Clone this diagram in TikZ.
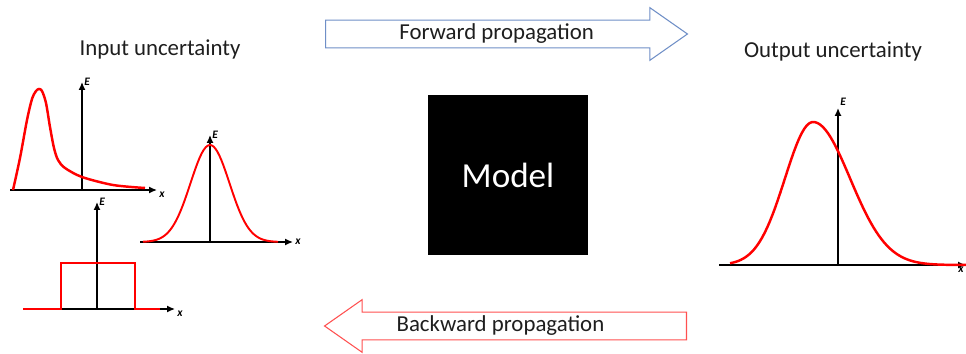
\documentclass[tikz,border=0pt]{standalone}
\usepackage{fontspec}
\setmainfont{Carlito}
\usepackage{tikz}
\usetikzlibrary{arrows.meta, positioning, shapes.arrows}

\definecolor{fwdblue}{RGB}{111,143,199}
\definecolor{bwdred}{RGB}{255,80,80}
\definecolor{txt}{RGB}{30,30,30}

\begin{document}
\begin{tikzpicture}[x=0.02cm, y=-0.02cm,
  title/.style={font=\fontsize{13}{15}\selectfont, text=txt},
  blockarrow/.style={single arrow, line width=0.6pt, fill=white,
                     minimum height=7.24cm, single arrow head extend=7.1pt,
                     single arrow tip angle=70, text height=8.5pt, text depth=2.5pt,
                     inner ysep=2.1pt, font=\fontsize{13}{15}\selectfont, text=txt},
  ax/.style={-{Latex[length=4.5pt, width=4pt]}, line width=0.8pt},
  curve/.style={red, line width=1.4pt},
  axlbl/.style={font=\fontsize{6.5}{7}\selectfont\bfseries\itshape, inner sep=1pt}]

  \useasboundingbox (0,0) rectangle (966,354);

  % titles and model box
  \node[title] (inlbl)  at (160,49) {Input uncertainty};
  \node[title] (outlbl) at (833,51) {Output uncertainty};
  \node[fill=black, minimum size=3.2cm, text=white,
        font=\fontsize{20}{24}\selectfont] (model) at (508,175) {Model};

  % propagation arrows
  \node[blockarrow, draw=fwdblue, anchor=tail] (fwd) at (325,34) {Forward propagation};
  \node[blockarrow, draw=bwdred, shape border rotate=180, anchor=tail] (bwd) at (687,326)
       {\hspace{-0.6cm}Backward propagation};

  % skewed input pdf
  \draw[ax] (10,190) -- (157,190) node[axlbl, below right] (x1) {x};
  \draw[ax] (82,190) -- (82,82) node[axlbl, right] (e1) {E};
  \draw[curve] plot[smooth, tension=0.5] coordinates {(13,190) (20,158) (27,120) (32,99)
    (36,91) (39,89) (42,91) (46,103) (50,127) (54,148) (58,160) (65,168) (82,177)
    (113,185) (145,188)};

  % gaussian input pdf
  \draw[ax] (140,242) -- (293,242) node[axlbl, right] (x2) {x};
  \draw[ax] (210,242) -- (210,135) node[axlbl, right] (e2) {E};
  \draw[curve, line width=1.1pt] plot[domain=143:278, samples=70]
    (\x,{242-97*exp(-0.5*((\x-210)/19.5)^2)});

  % uniform input pdf
  \draw[ax] (23,309) -- (175,309) node[axlbl, below right] (x3) {x};
  \draw[ax] (97,309) -- (97,202) node[axlbl, right] (e3) {E};
  \draw[curve] (23,309) -- (61,309) -- (61,263) -- (135,263) -- (135,309) -- (160,309);

  % output pdf
  \draw[ax] (719,265) -- (966,265) node[axlbl, below left] (x4) {x};
  \draw[ax] (838,265) -- (838,108) node[axlbl, above right] (e4) {E};
  \draw[curve] plot[domain=730:966, samples=90]
    (\x,{265-143*exp(-0.5*((\x-813)/ifthenelse(\x<813,28,37))^2)});
\end{tikzpicture}
\end{document}
